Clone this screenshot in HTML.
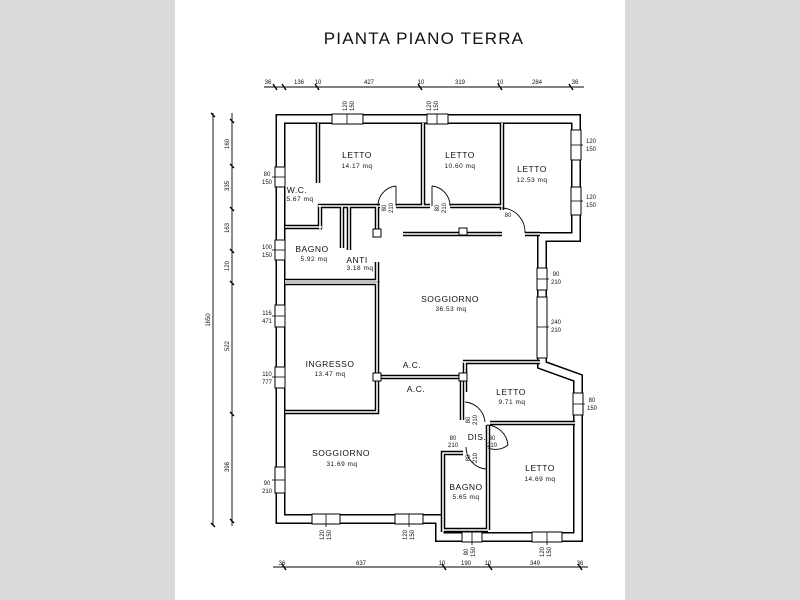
<!DOCTYPE html>
<html><head><meta charset="utf-8"><style>
html,body{margin:0;padding:0;width:800px;height:600px;overflow:hidden;background:#d9d9d9}
svg{display:block}
text{font-family:"Liberation Sans",sans-serif;fill:#111}
.t{font-size:8.5px;letter-spacing:0.5px}
.s{font-size:6.5px}
</style></head><body>
<svg width="800" height="600" viewBox="0 0 800 600" xmlns="http://www.w3.org/2000/svg">
<rect x="0" y="0" width="800" height="600" fill="#d9d9d9"/>
<rect x="175" y="0" width="450" height="600" fill="#fff"/>
<text x="424" y="44" text-anchor="middle" style="font-size:17px;letter-spacing:1.2px">PIANTA PIANO TERRA</text>

<g fill="none" stroke-linejoin="miter">
<path d="M280.5 119 H576 V237 H542 V365 L578 378 V537 H440 V519 H280.5 Z" stroke="#000" stroke-width="10"/>
<path d="M280.5 119 H576 V237 H542 V365 L578 378 V537 H440 V519 H280.5 Z" stroke="#fff" stroke-width="7"/>
</g>

<g fill="#fff" stroke="#000" stroke-width="1">
<rect x="332" y="114" width="31" height="10"/><rect x="427" y="114" width="21" height="10"/>
<rect x="571" y="130" width="10" height="30"/><rect x="571" y="187" width="10" height="28"/>
<rect x="537" y="268" width="10" height="22"/><rect x="537" y="297" width="10" height="61"/>
<rect x="573" y="393" width="10" height="22"/>
<rect x="275" y="167" width="10" height="20"/><rect x="275" y="240" width="10" height="20"/>
<rect x="275" y="305" width="10" height="22"/><rect x="275" y="367" width="10" height="21"/>
<rect x="275" y="467" width="10" height="26"/>
<rect x="312" y="514" width="28" height="10"/><rect x="395" y="514" width="28" height="10"/>
<rect x="462" y="532" width="20" height="10"/><rect x="532" y="532" width="30" height="10"/>
</g>
<g stroke="#000" stroke-width="0.8">
<line x1="347" y1="114" x2="347" y2="124"/><line x1="437" y1="114" x2="437" y2="124"/>
<line x1="571" y1="145" x2="583" y2="145"/><line x1="571" y1="201" x2="583" y2="201"/>
<line x1="537" y1="279" x2="549" y2="279"/><line x1="537" y1="327" x2="549" y2="327"/>
<line x1="573" y1="404" x2="585" y2="404"/>
<line x1="272" y1="177" x2="285" y2="177"/><line x1="272" y1="250" x2="285" y2="250"/>
<line x1="272" y1="316" x2="285" y2="316"/><line x1="272" y1="377" x2="285" y2="377"/>
<line x1="272" y1="480" x2="285" y2="480"/>
<line x1="326" y1="514" x2="326" y2="527"/><line x1="409" y1="514" x2="409" y2="527"/>
<line x1="472" y1="532" x2="472" y2="545"/><line x1="547" y1="532" x2="547" y2="545"/>
</g>

<g fill="none" stroke-linecap="butt">
<g stroke="#000" stroke-width="4.5">
<path d="M318 123 V183"/>
<path d="M320 205 V229"/>
<path d="M285 227 H322"/>
<path d="M318 206 H380 M396 206 H423 V123 M423 206 H430 M450 206 H502 V123 M502 206 V210"/>
<path d="M342 206 V248 M349 206 V250"/>
<path d="M377 206 V233"/>
<path d="M403 234 H502 M525 234 H540"/>
<path d="M285 281 H377 V262"/>
<path d="M285 283 H377 V412 H285"/>
<path d="M377 377 H463"/>
<path d="M462 377 V420"/>
<path d="M463 362 H540 M465 362 V392"/>
<path d="M490 423 H575 M488 425 V530"/>
<path d="M443 532 V453 H463"/>
<path d="M443 530 H488"/>
</g>
<g stroke="#fff" stroke-width="1.6">
<path d="M318 123 V183"/>
<path d="M320 205 V229"/>
<path d="M285 227 H322"/>
<path d="M318 206 H380 M396 206 H423 V123 M423 206 H430 M450 206 H502 V123 M502 206 V210"/>
<path d="M342 206 V248 M349 206 V250"/>
<path d="M377 206 V233"/>
<path d="M403 234 H502 M525 234 H540"/>
<path d="M285 281 H377 V262"/>
<path d="M285 283 H377 V412 H285"/>
<path d="M377 377 H463"/>
<path d="M462 377 V420"/>
<path d="M463 362 H540 M465 362 V392"/>
<path d="M490 423 H575 M488 425 V530"/>
<path d="M443 532 V453 H463"/>
<path d="M443 530 H488"/>
</g>
</g>
<g fill="#fff" stroke="#000" stroke-width="1">
<rect x="373" y="229" width="8" height="8"/><rect x="459" y="228" width="8" height="7"/>
<rect x="373" y="373" width="8" height="8"/><rect x="459" y="373" width="8" height="8"/>
</g>
<g fill="none" stroke="#000" stroke-width="0.9">
<path d="M396 186 A20 20 0 0 0 378 206"/><line x1="396" y1="186" x2="396" y2="206"/>
<path d="M432 186 A20 20 0 0 1 450 206"/><line x1="432" y1="186" x2="432" y2="206"/>
<path d="M502 208 A24 24 0 0 1 525 233"/>
<path d="M465 402 A22 22 0 0 1 485 422"/>
<path d="M487 425 A22 22 0 0 1 508 445 A20 20 0 0 1 488 448"/>
<path d="M466 447 A22 22 0 0 0 486 469"/>
</g>

<g class="t" text-anchor="middle">
<text x="357" y="158">LETTO</text><text x="357" y="168" class="s">14.17 mq</text>
<text x="460" y="158">LETTO</text><text x="460" y="168" class="s">10.60 mq</text>
<text x="532" y="172">LETTO</text><text x="532" y="182" class="s">12.53 mq</text>
<text x="297" y="193">W.C.</text><text x="300" y="201" class="s">5.67 mq</text>
<text x="312" y="252">BAGNO</text><text x="314" y="261" class="s">5.92 mq</text>
<text x="357" y="263">ANTI</text><text x="360" y="270" class="s">3.18 mq</text>
<text x="450" y="302">SOGGIORNO</text><text x="451" y="311" class="s">36.53 mq</text>
<text x="330" y="367">INGRESSO</text><text x="330" y="376" class="s">13.47 mq</text>
<text x="412" y="368">A.C.</text><text x="416" y="392">A.C.</text>
<text x="511" y="395">LETTO</text><text x="512" y="404" class="s">9.71 mq</text>
<text x="477" y="440">DIS.</text>
<text x="341" y="456">SOGGIORNO</text><text x="342" y="466" class="s">31.69 mq</text>
<text x="540" y="471">LETTO</text><text x="540" y="481" class="s">14.69 mq</text>
<text x="466" y="490">BAGNO</text><text x="466" y="499" class="s">5.65 mq</text>
</g>
<g class="s" style="font-size:6px" text-anchor="middle">
<text x="267" y="176">80</text><text x="267" y="184">150</text>
<text x="267" y="249">100</text><text x="267" y="257">150</text>
<text x="267" y="315">116</text><text x="267" y="323">471</text>
<text x="267" y="376">110</text><text x="267" y="384">777</text>
<text x="267" y="485">90</text><text x="267" y="493">210</text>
<text x="591" y="143">120</text><text x="591" y="151">150</text>
<text x="591" y="199">120</text><text x="591" y="207">150</text>
<text x="556" y="276">90</text><text x="556" y="284">210</text>
<text x="556" y="324">240</text><text x="556" y="332">210</text>
<text x="592" y="402">80</text><text x="592" y="410">150</text>
<text x="508" y="217">80</text>
<text x="453" y="440">80</text><text x="453" y="447">210</text>
<text x="492" y="440">80</text><text x="492" y="447">210</text>
</g>
<g class="s" style="font-size:6px" text-anchor="middle">
<text transform="translate(347,106) rotate(-90)">120<tspan x="0" dy="7">150</tspan></text>
<text transform="translate(431,106) rotate(-90)">120<tspan x="0" dy="7">150</tspan></text>
<text transform="translate(386,208) rotate(-90)">80<tspan x="0" dy="7">210</tspan></text>
<text transform="translate(439,208) rotate(-90)">80<tspan x="0" dy="7">210</tspan></text>
<text transform="translate(470,420) rotate(-90)">80<tspan x="0" dy="7">210</tspan></text>
<text transform="translate(470,458) rotate(-90)">80<tspan x="0" dy="7">210</tspan></text>
<text transform="translate(324,535) rotate(-90)">120<tspan x="0" dy="7">150</tspan></text>
<text transform="translate(407,535) rotate(-90)">120<tspan x="0" dy="7">150</tspan></text>
<text transform="translate(468,552) rotate(-90)">80<tspan x="0" dy="7">150</tspan></text>
<text transform="translate(544,552) rotate(-90)">120<tspan x="0" dy="7">150</tspan></text>
</g>

<g stroke="#000" stroke-width="0.9">
<line x1="264" y1="87" x2="584" y2="87"/>
<line x1="273" y1="567" x2="588" y2="567"/>
<line x1="213" y1="113" x2="213" y2="526"/>
<line x1="232" y1="113" x2="232" y2="526"/>
</g>
<g stroke="#000" stroke-width="1.4">
<path d="M273 84 l4 6 M282 84 l4 6 M315 84 l4 6 M418 84 l4 6 M498 84 l4 6 M569 84 l4 6"/>
<path d="M282 564 l4 6 M442 564 l4 6 M488 564 l4 6 M578 564 l4 6"/>
<path d="M211 113 l4 4 M211 523 l4 4"/>
<path d="M230 119 l4 4 M230 164 l4 4 M230 207 l4 4 M230 249 l4 4 M230 281 l4 4 M230 412 l4 4 M230 519 l4 4"/>
</g>
<g class="s" style="font-size:6px" text-anchor="middle">
<text x="268" y="84">36</text><text x="299" y="84">136</text><text x="318" y="84">10</text>
<text x="369" y="84">427</text><text x="421" y="84">10</text><text x="460" y="84">319</text>
<text x="500" y="84">10</text><text x="537" y="84">284</text><text x="575" y="84">36</text>
<text x="282" y="565">36</text><text x="361" y="565">637</text><text x="442" y="565">10</text>
<text x="466" y="565">190</text><text x="488" y="565">10</text><text x="535" y="565">349</text><text x="580" y="565">36</text>
<text transform="translate(210,320) rotate(-90)">1650</text>
<text transform="translate(229,144) rotate(-90)">160</text>
<text transform="translate(229,186) rotate(-90)">335</text>
<text transform="translate(229,228) rotate(-90)">163</text>
<text transform="translate(229,266) rotate(-90)">120</text>
<text transform="translate(229,346) rotate(-90)">522</text>
<text transform="translate(229,467) rotate(-90)">398</text>
</g>
</svg>
</body></html>
